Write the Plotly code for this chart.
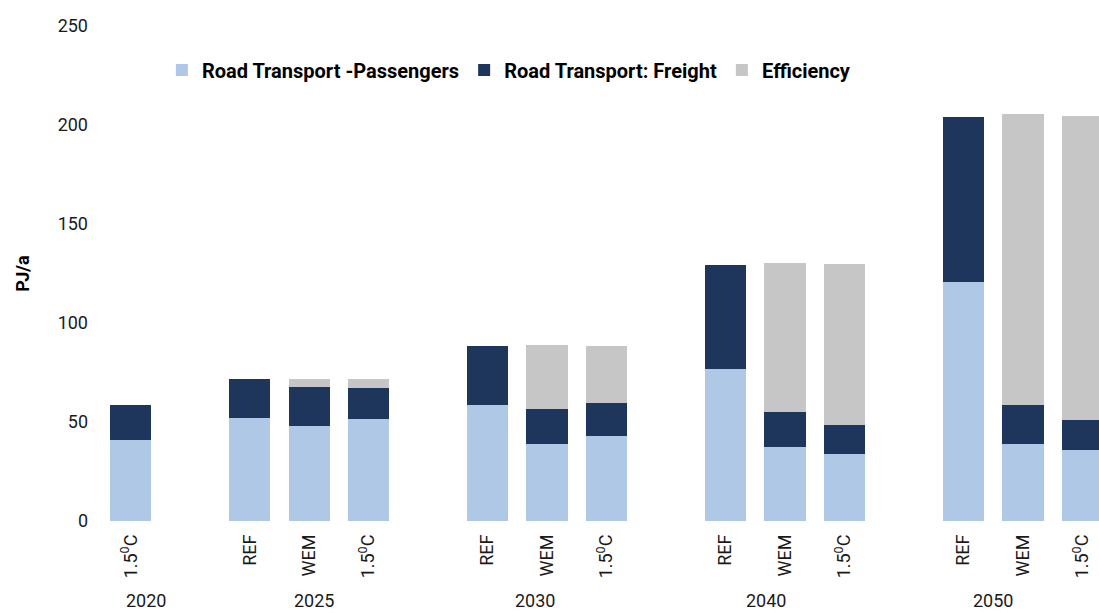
import plotly.graph_objects as go

# Road transport energy demand by scenario (PJ/a)
years = ["2020", "2025", "2025", "2025", "2030", "2030", "2030",
         "2040", "2040", "2040", "2050", "2050", "2050"]
scenarios = ["1.5C", "REF", "WEM", "1.5C", "REF", "WEM", "1.5C",
             "REF", "WEM", "1.5C", "REF", "WEM", "1.5C"]
passengers = [41.0, 52.0, 48.0, 51.5, 58.6, 38.9, 42.9, 76.8, 37.2, 34.0, 120.6, 38.9, 35.9]
freight = [17.6, 19.7, 19.7, 15.7, 29.8, 17.7, 16.7, 52.5, 18.0, 14.6, 83.6, 19.7, 15.1]
efficiency = [None, None, 4.0, 4.5, None, 32.3, 28.8, None, 75.1, 81.2, None, 147.0, 153.7]

scenario_labels = {"REF": "REF", "WEM": "WEM", "1.5C": "1.5<sup>0</sup>C"}

# slot positions: one slot per bar, an empty slot between year groups
xpos = []
group_slots = {}
pos = 0
prev = None
for y in years:
    if prev is not None and y != prev:
        pos += 1
    xpos.append(pos)
    group_slots.setdefault(y, []).append(pos)
    prev = y
    pos += 1

# horizontal nudge of each year caption relative to its group centre (slot units)
year_label_shift = {"2020": 0.26, "2025": 0.08, "2030": -0.2, "2040": -0.32, "2050": -0.5}

C_PASS = "#AFC8E6"
C_FREIGHT = "#1E365C"
C_EFF = "#C6C6C6"
FONT = "Roboto"
TXT = "#1a1a1a"

fig = go.Figure()
fig.add_bar(x=xpos, y=passengers, name="Road Transport -Passengers",
            marker=dict(color=C_PASS, line=dict(width=0)), width=0.695)
fig.add_bar(x=xpos, y=freight, name="Road Transport: Freight",
            marker=dict(color=C_FREIGHT, line=dict(width=0)), width=0.695)
fig.add_bar(x=xpos, y=efficiency, name="Efficiency",
            marker=dict(color=C_EFF, line=dict(width=0)), width=0.695)

for y, slots in group_slots.items():
    cx = sum(slots) / len(slots) + year_label_shift[y]
    fig.add_annotation(x=cx, xref="x", y=-0.186, yref="paper", text=y,
                       showarrow=False, xanchor="center", yanchor="bottom",
                       font=dict(family=FONT, size=18, color=TXT))

fig.update_layout(
    width=1099, height=613,
    margin=dict(l=101, r=0, t=26, b=92),
    barmode="stack",
    plot_bgcolor="white", paper_bgcolor="white",
    font=dict(family=FONT, size=18, color=TXT),
    showlegend=True,
    legend=dict(orientation="h", x=0.061, y=0.911, xanchor="left", yanchor="middle",
                font=dict(family=FONT, size=20, color="black", weight="bold"),
                traceorder="normal", bgcolor="rgba(0,0,0,0)", itemwidth=30),
    xaxis=dict(range=[-0.5, 16.28], tickmode="array", tickvals=xpos,
               ticktext=[scenario_labels[s] for s in scenarios], tickangle=-90,
               showgrid=False, zeroline=False, showline=False, ticks="",
               ticklabelstandoff=9,
               tickfont=dict(family=FONT, size=18, color=TXT)),
    yaxis=dict(range=[0, 250], tickvals=[0, 50, 100, 150, 200, 250],
               showgrid=False, zeroline=False, showline=False, ticks="",
               ticklabelstandoff=12,
               tickfont=dict(family=FONT, size=18, color=TXT),
               title=dict(text="<b>PJ/a</b>", standoff=23,
                          font=dict(family=FONT, size=18, color="black"))),
)

fig.write_html("out.html")
